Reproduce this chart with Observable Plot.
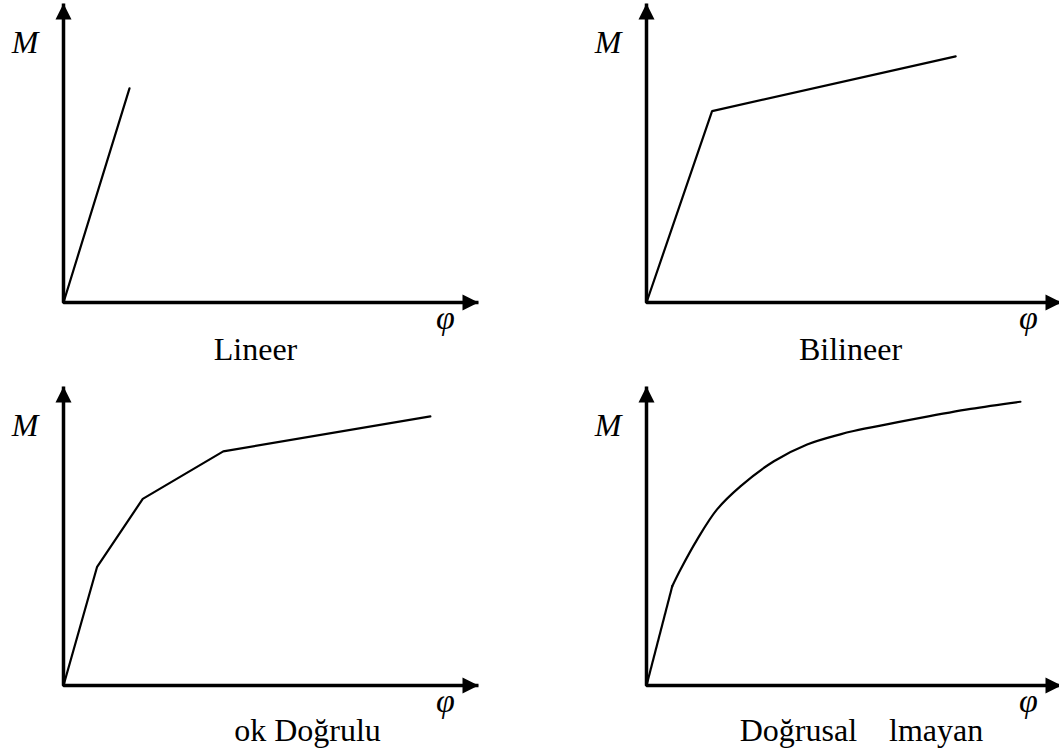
<!DOCTYPE html>
<html>
<head>
<meta charset="utf-8">
<script src="https://cdn.jsdelivr.net/npm/d3@7"></script>
<script src="https://cdn.jsdelivr.net/npm/@observablehq/plot@0.6"></script>
<style>
  html, body { margin: 0; padding: 0; background: #fff; color: #000; overflow: hidden; }
  #figure { position: relative; width: 1059px; height: 753px; overflow: hidden; background: #fff; }
  .panel { position: absolute; }
</style>
</head>
<body>
<div id="figure"></div>
<script>
// Moment–curvature (M–φ) idealisations, arbitrary units (0–100 on each axis)
const phiMax = 100;
const mMax = 100;

// Lineer
const lineerPhi = [0, 15.9];
const lineerM = [0, 71.6];

// Bilineer
const bilineerPhi = [0, 15.8, 74.5];
const bilineerM = [0, 64.0, 82.3];

// Çok doğrulu (multi-linear)
const cokPhi = [0, 8.1, 19.1, 38.5, 88.4];
const cokM = [0, 39.7, 62.4, 78.3, 90.0];

// Doğrusal olmayan: straight initial branch, then a smooth curve
const nonlinPhi = [0, 6.2, 8.2, 12.2, 17.0, 22.7, 30.7, 38.7, 46.7, 49.9, 66.0, 78.1, 90.1];
const nonlinM = [0, 33.2, 38.8, 48.8, 58.9, 66.7, 75.0, 80.6, 84.0, 85.1, 89.5, 92.5, 94.9];

const titles = ["Lineer", "Bilineer", "ok Doğrulu", "Doğrusal\u00a0\u00a0\u00a0\u00a0lmayan"];

const rows = (phi, m) => phi.map((p, i) => ({phi: p, m: m[i]}));

// filled arrowhead whose tip sits at the symbol origin
const arrowHead = {
  draw(context, size) {
    const h = Math.sqrt(size);
    context.moveTo(0, 0);
    context.lineTo(h / 2, h);
    context.lineTo(-h / 2, h);
    context.closePath();
  }
};
const headR = Math.sqrt(256 / Math.PI);

const serif = "'Liberation Serif', 'Times New Roman', serif";

function panel({curves, title, titleDx, titleDy}) {
  const axisPath = [{phi: 0, m: mMax}, {phi: 0, m: 0}, {phi: phiMax, m: 0}];
  return Plot.plot({
    width: 529,
    height: 376,
    marginLeft: 63,
    marginRight: 51,
    marginTop: 3,
    marginBottom: 74,
    x: {domain: [0, phiMax], axis: null},
    y: {domain: [0, mMax], axis: null},
    style: {background: "transparent", overflow: "visible"},
    marks: [
      ...curves,
      Plot.line(axisPath, {x: "phi", y: "m", stroke: "black", strokeWidth: 3.5, strokeLinejoin: "miter", strokeLinecap: "butt"}),
      Plot.dot([{phi: 0, m: mMax}], {x: "phi", y: "m", symbol: arrowHead, r: headR, fill: "black", stroke: "none"}),
      Plot.dot([{phi: phiMax, m: 0}], {x: "phi", y: "m", symbol: arrowHead, r: headR, rotate: 90, fill: "black", stroke: "none"}),
      Plot.text(["M"], {frameAnchor: "top-left", lineAnchor: "middle", textAnchor: "end", dx: -25, dy: 39,
        fontFamily: serif, fontStyle: "italic", fontSize: 32, fill: "black"}),
      Plot.text(["φ"], {frameAnchor: "bottom-right", lineAnchor: "middle", textAnchor: "middle", dx: -33, dy: 16,
        fontFamily: serif, fontStyle: "italic", fontSize: 34, fill: "black"}),
      Plot.text([title], {frameAnchor: "bottom-left", lineAnchor: "middle", textAnchor: "middle", dx: titleDx, dy: titleDy,
        fontFamily: serif, fontSize: 32, fill: "black"})
    ]
  });
}

const lineStyle = {x: "phi", y: "m", stroke: "black", strokeWidth: 2.2, strokeLinejoin: "miter"};

const nonlinData = rows(nonlinPhi, nonlinM);

const panels = [
  {left: 0, top: 0, curves: [Plot.line(rows(lineerPhi, lineerM), lineStyle)], title: titles[0], titleDx: 192, titleDy: 47},
  {left: 583, top: 0, curves: [Plot.line(rows(bilineerPhi, bilineerM), lineStyle)], title: titles[1], titleDx: 204, titleDy: 47},
  {left: 0, top: 383, curves: [Plot.line(rows(cokPhi, cokM), lineStyle)], title: titles[2], titleDx: 244, titleDy: 45},
  {left: 583, top: 383, curves: [
    Plot.line(nonlinData.slice(0, 2), lineStyle),
    Plot.line(nonlinData.slice(1), {...lineStyle, curve: "catmull-rom"})
  ], title: titles[3], titleDx: 215, titleDy: 45}
];

const figure = document.getElementById("figure");
for (const p of panels) {
  const svg = panel(p);
  svg.classList.add("panel");
  svg.style.left = p.left + "px";
  svg.style.top = p.top + "px";
  figure.appendChild(svg);
}
</script>
</body>
</html>
